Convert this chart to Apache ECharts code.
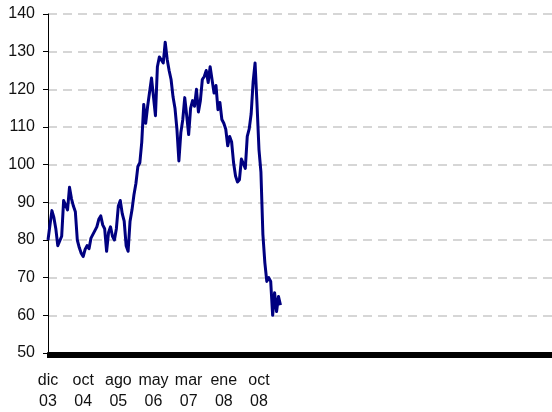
<!DOCTYPE html>
<html>
<head>
<meta charset="utf-8">
<script src="https://cdn.jsdelivr.net/npm/echarts@6/dist/echarts.min.js"></script>
<style>
html,body{margin:0;padding:0;background:#fff;}
#c{width:552px;height:412px;}
</style>
</head>
<body>
<div id="c"></div>
<script>
// Tick labels shown along the category axis (every labelEvery categories)
var tickLabels = ['dic\n03', 'oct\n04', 'ago\n05', 'may\n06', 'mar\n07', 'ene\n08', 'oct\n08'];
var labelEvery = 18;
var totalCategories = 259;

// Series values
var values = [
  80, 84, 87.8, 86, 83, 78.5, 78, 81, 90.5, 90,
  88, 94, 91, 89, 87.5, 80, 78, 76.5, 75.6, 77.5,
  78.5, 77.7, 80.5, 81.5, 82, 83.5, 85.5, 86.4, 84, 83,
  77, 82, 83.5, 81, 80, 83, 89, 90.5, 87, 85,
  78.5, 77, 85, 88, 92, 95, 99.5, 100.5, 106, 116,
  111, 115.5, 116, 123, 122.6, 113, 126, 128.6, 129, 127,
  132.5, 128, 125, 122.6, 118, 115, 109.4, 101, 108.5, 112,
  117.8, 113, 108, 115, 117, 115.5, 120, 114, 117, 122.6,
  123.4, 125, 121.8, 126, 126, 119, 121, 114.6, 116.5, 112,
  111, 109.4, 105, 107.5, 106, 100.5, 97, 95.4, 96, 101.5,
  102, 99, 107.5, 109.5, 113.5, 122, 127, 116, 104, 98,
  81.5, 74, 69, 70, 69, 60, 66, 61, 65, 62.7
];

var categories = [];
for (var i = 0; i < totalCategories; i++) {
  var k = i / labelEvery;
  categories.push(i % labelEvery === 0 && k < tickLabels.length ? tickLabels[k] : '');
}

var chart = echarts.init(document.getElementById('c'), null, {renderer: 'canvas'});
chart.setOption({
  animation: false,
  grid: {left: 48, right: 0, top: 14, bottom: 57, containLabel: false},
  xAxis: {
    type: 'category',
    data: categories,
    boundaryGap: false,
    axisLine: {show: true, onZero: false, lineStyle: {color: '#000', width: 2}},
    axisTick: {show: true, interval: 0, length: 5, lineStyle: {color: '#000', width: 2}},
    axisLabel: {
      interval: function (index, value) { return value !== ''; },
      margin: 17,
      color: '#111',
      fontFamily: 'Liberation Sans, Arial, sans-serif',
      fontSize: 16,
      lineHeight: 21
    },
    splitLine: {show: false}
  },
  yAxis: {
    type: 'value',
    min: 50,
    max: 140,
    interval: 10,
    axisLine: {show: true, lineStyle: {color: '#000', width: 1}},
    axisTick: {show: true, length: 5, lineStyle: {color: '#000'}},
    axisLabel: {
      margin: 13,
      color: '#111',
      fontFamily: 'Liberation Sans, Arial, sans-serif',
      fontSize: 16
    },
    splitLine: {show: true, lineStyle: {color: '#d6d6d6', type: [9, 6], width: 2}}
  },
  series: [{
    type: 'line',
    data: values,
    symbol: 'none',
    lineStyle: {color: '#000080', width: 3, join: 'round'},
    itemStyle: {color: '#000080'}
  }]
});
</script>
</body>
</html>
